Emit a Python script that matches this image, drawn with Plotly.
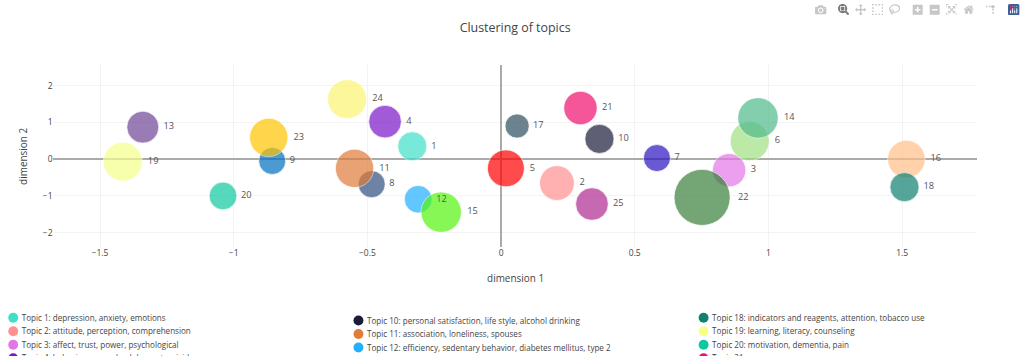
import plotly.graph_objects as go

topic_ids = list(range(1, 26))
x_values = [-0.332, 0.209, 0.853, -0.434, 0.018, 0.930, 0.583, -0.484, -0.856, 0.368,
            -0.548, -0.310, -1.340, 0.961, -0.224, 1.516, 0.060, 1.509, -1.415, -1.040,
            0.297, 0.752, -0.869, -0.576, 0.340]
y_values = [0.35, -0.65, -0.30, 1.02, -0.25, 0.49, 0.03, -0.68, -0.05, 0.55,
            -0.25, -1.09, 0.87, 1.12, -1.44, 0.00, 0.90, -0.76, -0.07, -1.00,
            1.39, -1.04, 0.59, 1.63, -1.22]
sizes = [41, 49, 47, 46, 52, 55, 38, 38, 38, 41,
         54, 39, 45, 57, 57, 53, 34, 41, 55, 39,
         47, 79, 54, 55, 46]
colors = ["#40E0C8", "#FF9090", "#E377E8", "#7A16C8", "#FF0000", "#A0E080", "#2B14C0", "#2F4F80",
          "#0070C0", "#1B1B3A", "#E07B39", "#20B0FF", "#6F4595", "#50BA8A", "#55F510", "#FFC08A",
          "#2F5060", "#108070", "#F5FF8A", "#10C8A0", "#F0106F", "#3A7F3A", "#FFC400", "#FBF570", "#B02A90"]
labels = ["depression, anxiety, emotions", "attitude, perception, comprehension",
          "affect, trust, power, psychological", "behaviors, sexual, adolescent, suicide",
          "", "", "", "", "",
          "personal satisfaction, life style, alcohol drinking", "association, loneliness, spouses",
          "efficiency, sedentary behavior, diabetes mellitus, type 2",
          "", "", "", "", "",
          "indicators and reagents, attention, tobacco use", "learning, literacy, counseling",
          "motivation, dementia, pain", "", "", "", "", ""]
columns = [range(0, 9), range(9, 17), range(17, 25)]
legend_ids = ["legend", "legend2", "legend3"]
title = "Clustering of topics"
x_title = "dimension 1"
y_title = "dimension 2"

fig = go.Figure()
fig.add_trace(go.Scatter(x=x_values, y=y_values, mode="markers+text",
                         text=[str(t) for t in topic_ids], textposition="middle right",
                         textfont=dict(size=13, color="#555"),
                         marker=dict(size=sizes, color=colors, opacity=0.7,
                                     line=dict(width=1, color="white")),
                         showlegend=False))
for col, lid in zip(columns, legend_ids):
    for i in col:
        name = f"Topic {topic_ids[i]}: {labels[i]}" if labels[i] else f"Topic {topic_ids[i]}"
        fig.add_trace(go.Scatter(x=[None], y=[None], mode="markers", name=name, legend=lid,
                                 marker=dict(size=14, color=colors[i])))

leg = dict(font=dict(size=11.4, color="#444"), tracegroupgap=0, yanchor="top", xanchor="left",
           bgcolor="rgba(0,0,0,0)", indentation=-15, xref="container", yref="container")
axis_common = dict(tickfont=dict(size=12), gridcolor="#eee", automargin=False,
                   zeroline=True, zerolinecolor="#aaa", zerolinewidth=3, showline=False)
fig.update_layout(
    width=1442, height=700, margin=dict(l=75, r=66, t=92, b=352, autoexpand=False),
    paper_bgcolor="white", plot_bgcolor="white",
    title=dict(text=title, x=0.5, xref="paper", y=1 - 39 / 700, yanchor="middle",
               font=dict(size=17.5, color="#444")),
    font=dict(family="Open Sans, verdana, arial, sans-serif", color="#444"),
    xaxis=dict(range=[-1.675, 1.78],
               tickvals=[-1.5, -1, -0.5, 0, 0.5, 1, 1.5],
               ticktext=["\u22121.5", "\u22121", "\u22120.5", "0", "0.5", "1", "1.5"], **axis_common),
    yaxis=dict(range=[-2.39, 2.55],
               tickvals=[-2, -1, 0, 1, 2],
               ticktext=["\u22122", "\u22121", "0", "1", "2"], **axis_common),
    annotations=[
        dict(text=x_title, xref="paper", yref="paper", x=0.5, y=-0.17, showarrow=False,
             xanchor="center", yanchor="middle", font=dict(size=14, color="#444")),
        dict(text=y_title, xref="paper", yref="paper", x=-0.0327, y=0.5, showarrow=False, textangle=-90,
             xanchor="center", yanchor="middle", font=dict(size=14, color="#444")),
    ],
    legend=dict(x=0.0039, y=1 - 433 / 700, **leg),
    legend2=dict(x=0.3411, y=1 - 437 / 700, **leg),
    legend3=dict(x=0.6782, y=1 - 433 / 700, **leg),
)
post = """
document.body.style.margin='0';
document.documentElement.style.overflow='hidden';
document.body.style.zoom='0.71';
document.querySelectorAll('.legendsymbols').forEach(function(e){e.style.transform='translateX(8px)';});
var s=document.createElement('style');
s.textContent='.modebar-btn--logo svg rect{fill:#3f5f96 !important}';
document.head.appendChild(s);
"""
fig.write_html("out.html",
               config={"displayModeBar": True,
                       "modeBarButtonsToAdd": ["toggleSpikelines", "hoverClosestCartesian", "hoverCompareCartesian"]},
               post_script=post)
